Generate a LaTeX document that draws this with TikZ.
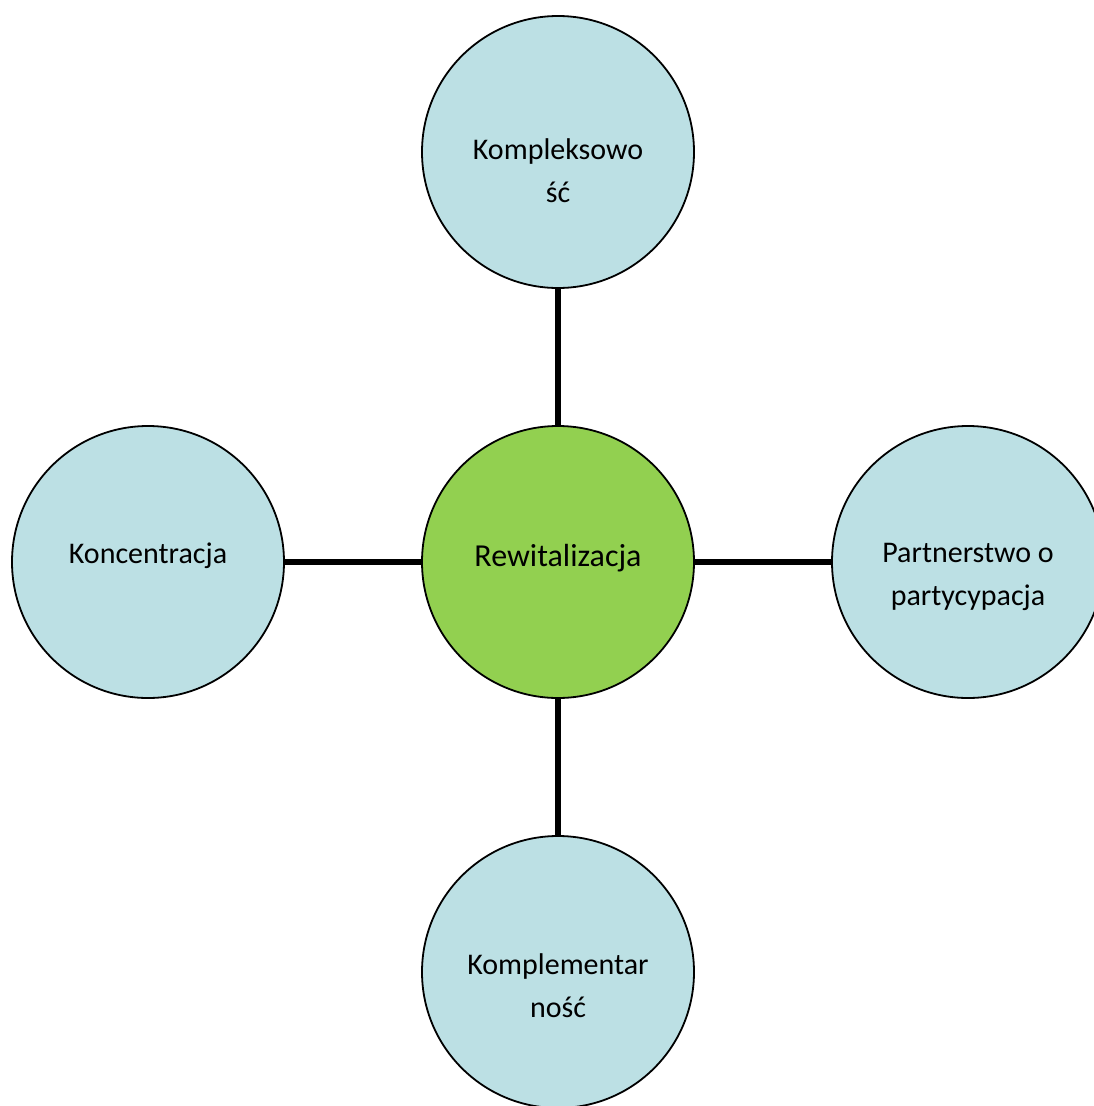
\documentclass[tikz,border=0pt]{standalone}
\usepackage{fontspec}
\setmainfont{Carlito}
\definecolor{bubble}{RGB}{188,224,228}
\definecolor{hubgreen}{RGB}{146,208,80}
\begin{document}
\begin{tikzpicture}[x=1pt,y=-1pt,
  bub/.style={circle,draw=black,line width=1.8pt,minimum size=272pt,inner sep=0pt,fill=bubble},
  hubnode/.style={bub,fill=hubgreen},
  conn/.style={line width=5.5pt,draw=black},
  lbl/.style={align=center,inner sep=0pt,font=\fontsize{30}{43}\selectfont},
  hublbl/.style={lbl,font=\fontsize{32}{43}\selectfont}
]
\useasboundingbox (0,0) rectangle (1094,1106);
\node[hubnode] (hub) at (558,562) {};
\node[bub] (top) at (558,152) {};
\node[bub] (left) at (148,562) {};
\node[bub] (right) at (968,562) {};
\node[bub] (bottom) at (558,972) {};
\draw[conn] (top) -- (hub);
\draw[conn] (left) -- (hub);
\draw[conn] (right) -- (hub);
\draw[conn] (bottom) -- (hub);
\node[hublbl] (thub) at (558,558) {Rewitalizacja};
\node[lbl] (ttop) at (558,171) {Kompleksowo\\ść};
\node[lbl] (tleft) at (148,556) {Koncentracja};
\node[lbl] (tright) at (968,577) {Partnerstwo o\\partycypacja};
\node[lbl] (tbottom) at (558,986) {Komplementar\\ność};
\end{tikzpicture}
\end{document}
